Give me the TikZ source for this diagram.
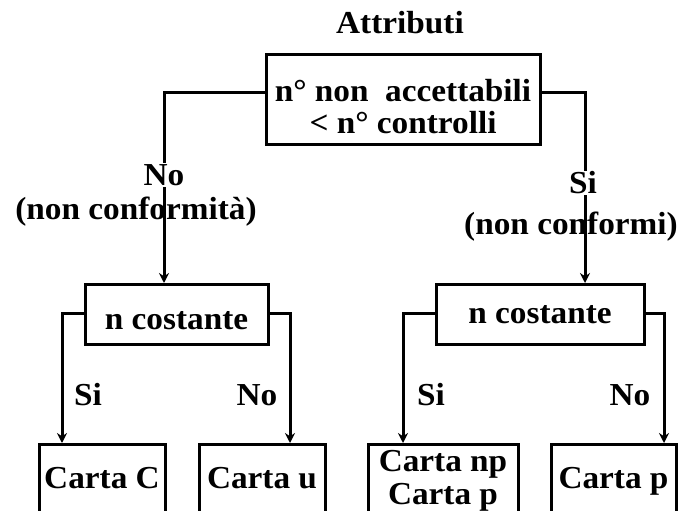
\documentclass[tikz,border=0pt]{standalone}
\usepackage{fontspec}
\setmainfont{Liberation Serif}[FakeStretch=1.04]
\usetikzlibrary{arrows.meta}
\begin{document}
\begin{tikzpicture}[x=1pt,y=-1pt,
  every node/.style={font=\bfseries\fontsize{32}{32}\selectfont},
  box/.style={draw, line width=3pt, inner xsep=0pt, inner ysep=0pt, align=center},
  arr/.style={line width=3pt, -{Stealth[length=10pt,width=10pt]}},
  lbl/.style={inner sep=1pt},
  lblw/.style={fill=white, inner sep=1pt}]
\useasboundingbox (0,0) rectangle (694,511);
\clip (0,0) rectangle (694,511);
\fill[white] (0,0) rectangle (694,511);

\node (title) at (400,23) {Attributi};
\node[box, anchor=north, minimum width=274, text height=79pt, text depth=11pt] (top) at (403,53) {n° non~ accettabili\\< n° controlli};

\node[box, anchor=north, minimum width=183, text height=45pt, text depth=15pt] (lb) at (176.5,283) {n costante};
\node[box, anchor=north, minimum width=208, text height=39pt, text depth=21pt] (rb) at (540,283) {n costante};

\node[box, anchor=north, minimum width=126, text height=44pt, text depth=60pt] (cc) at (102,443) {Carta C};
\node[box, anchor=north, minimum width=126, text height=44pt, text depth=60pt] (cu) at (262,443) {Carta u};
\node[box, anchor=north, minimum width=150, text height=60pt, text depth=45pt,
      font=\bfseries\fontsize{32}{33}\selectfont] (cnp) at (443,443) {Carta np\\Carta p};
\node[box, anchor=north, minimum width=125, text height=44pt, text depth=60pt] (cp) at (613.5,443) {Carta p};

% connectors
\draw[arr] (top.west |- 0,93) -| ([xshift=-12.5pt]lb.north);
\draw[arr] (top.east |- 0,93) -| ([xshift=45pt]rb.north);

\draw[arr] (lb.west |- 0,313) -| ([xshift=-40pt]cc.north);
\draw[arr] (lb.east |- 0,313) -| ([xshift=28pt]cu.north);
\draw[arr] (rb.west |- 0,313) -| ([xshift=-40pt]cnp.north);
\draw[arr] (rb.east |- 0,313) -| ([xshift=50.5pt]cp.north);

% labels
\node[lblw] (lno) at (164,175) {No};
\node[lbl] (lnc) at (136,212) {(non conformità)};
\node[lblw] (rsi) at (583,183) {Si};
\node[lbl] (rnc) at (571,227) {(non conformi)};

\node[lbl] (s1) at (88,395) {Si};
\node[lbl] (n1) at (257,395) {No};
\node[lbl] (s2) at (431,395) {Si};
\node[lbl] (n2) at (630,395) {No};
\end{tikzpicture}
\end{document}
